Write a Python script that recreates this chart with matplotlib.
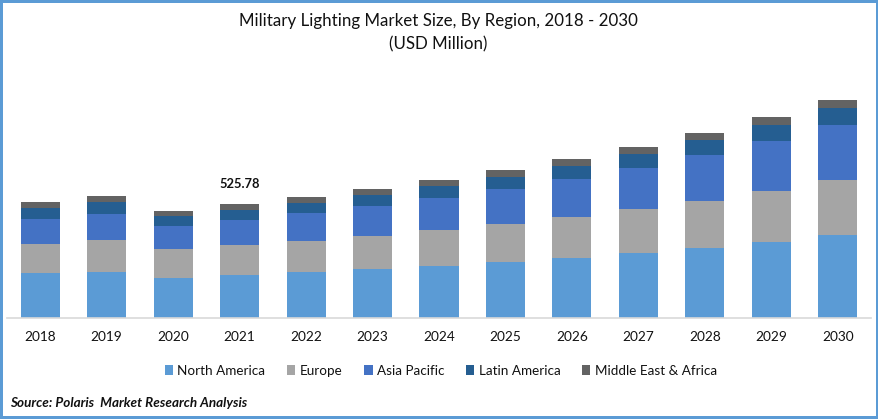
import numpy as np
import matplotlib
matplotlib.use('Agg')
import matplotlib.pyplot as plt

plt.rcParams['font.family'] = ['Lato', 'DejaVu Sans']

years = ['2018', '2019', '2020', '2021', '2022', '2023', '2024',
         '2025', '2026', '2027', '2028', '2029', '2030']

# USD million (2021 total is labelled as 525.78)
north_america = [207.5, 212.2, 184.5, 198.3, 212.2, 226.0, 239.8, 258.3, 276.7, 299.8, 322.8, 350.5, 382.8]
europe = [133.7, 147.6, 133.7, 138.4, 143.0, 152.2, 166.0, 175.3, 189.1, 202.9, 216.8, 235.2, 253.7]
asia_pacific = [115.3, 119.9, 106.1, 115.3, 129.1, 138.4, 147.6, 161.4, 175.3, 189.1, 212.2, 230.6, 253.7]
latin_america = [50.7, 55.3, 46.1, 46.1, 46.1, 50.7, 55.3, 55.3, 60.0, 64.6, 69.2, 73.8, 78.4]
middle_east = [27.7, 27.7, 23.1, 27.68, 27.7, 27.7, 27.7, 32.3, 32.3, 32.3, 32.3, 36.9, 36.9]

series = [
    ('North America', north_america, '#5B9BD5'),
    ('Europe', europe, '#A5A5A5'),
    ('Asia Pacific', asia_pacific, '#4472C4'),
    ('Latin America', latin_america, '#255E91'),
    ('Middle East & Africa', middle_east, '#636363'),
]

W, H = 879, 419
fig = plt.figure(figsize=(W / 100, H / 100), dpi=100)
fig.patch.set_facecolor('white')
fig.patch.set_edgecolor('#5B9BD5')
fig.patch.set_linewidth(3.0)

# axes placed in pixels: x 7-871, baseline at y=318
ax = fig.add_axes([7 / W, 1 - 318 / H, 864 / W, 228 / H])
x = np.arange(len(years))
bottom = np.zeros(len(years))
handles = []
for name, values, color in series:
    bars = ax.bar(x, values, width=0.587, bottom=bottom, color=color, label=name)
    handles.append(bars)
    bottom += np.array(values)

ax.set_xlim(-0.5, len(years) - 0.5)
ax.set_ylim(0, 228 * 525.78 / 114)
ax.set_xticks(x)
ax.set_xticklabels(years, fontsize=9.8, color='#111111')
ax.tick_params(axis='x', length=0, pad=9.5)
ax.set_yticks([])
for side in ['top', 'left', 'right']:
    ax.spines[side].set_visible(False)
ax.spines['bottom'].set_color('#D9D9D9')
ax.spines['bottom'].set_linewidth(1.2)

# only 2021 carries a total label
ax.text(3, bottom[3] + 90, '525.78', ha='center', va='center', fontsize=9.3,
        fontweight='bold', color='#111111')

fig.text(438 / W, 1 - 21 / H, 'Military Lighting Market Size, By Region, 2018 - 2030',
         ha='center', va='center', fontsize=12.2, color='#111111')
fig.text(438 / W, 1 - 44 / H, '(USD Million)', ha='center', va='center',
         fontsize=12.2, color='#111111')

fig.legend(handles=handles, loc='center', bbox_to_anchor=(441 / W, 1 - 370.5 / H),
           ncol=5, frameon=False, fontsize=9.7, handlelength=0.6, handleheight=0.8,
           handletextpad=0.33, columnspacing=1.62, labelcolor='#111111')

fig.text(10 / W, 1 - 403 / H, 'Source: Polaris  Market Research Analysis', ha='left',
         va='center', fontsize=9.7, fontweight='bold', fontstyle='italic', color='#111111')

fig.savefig('out.png', dpi=100, facecolor=fig.get_facecolor(), edgecolor=fig.get_edgecolor())
